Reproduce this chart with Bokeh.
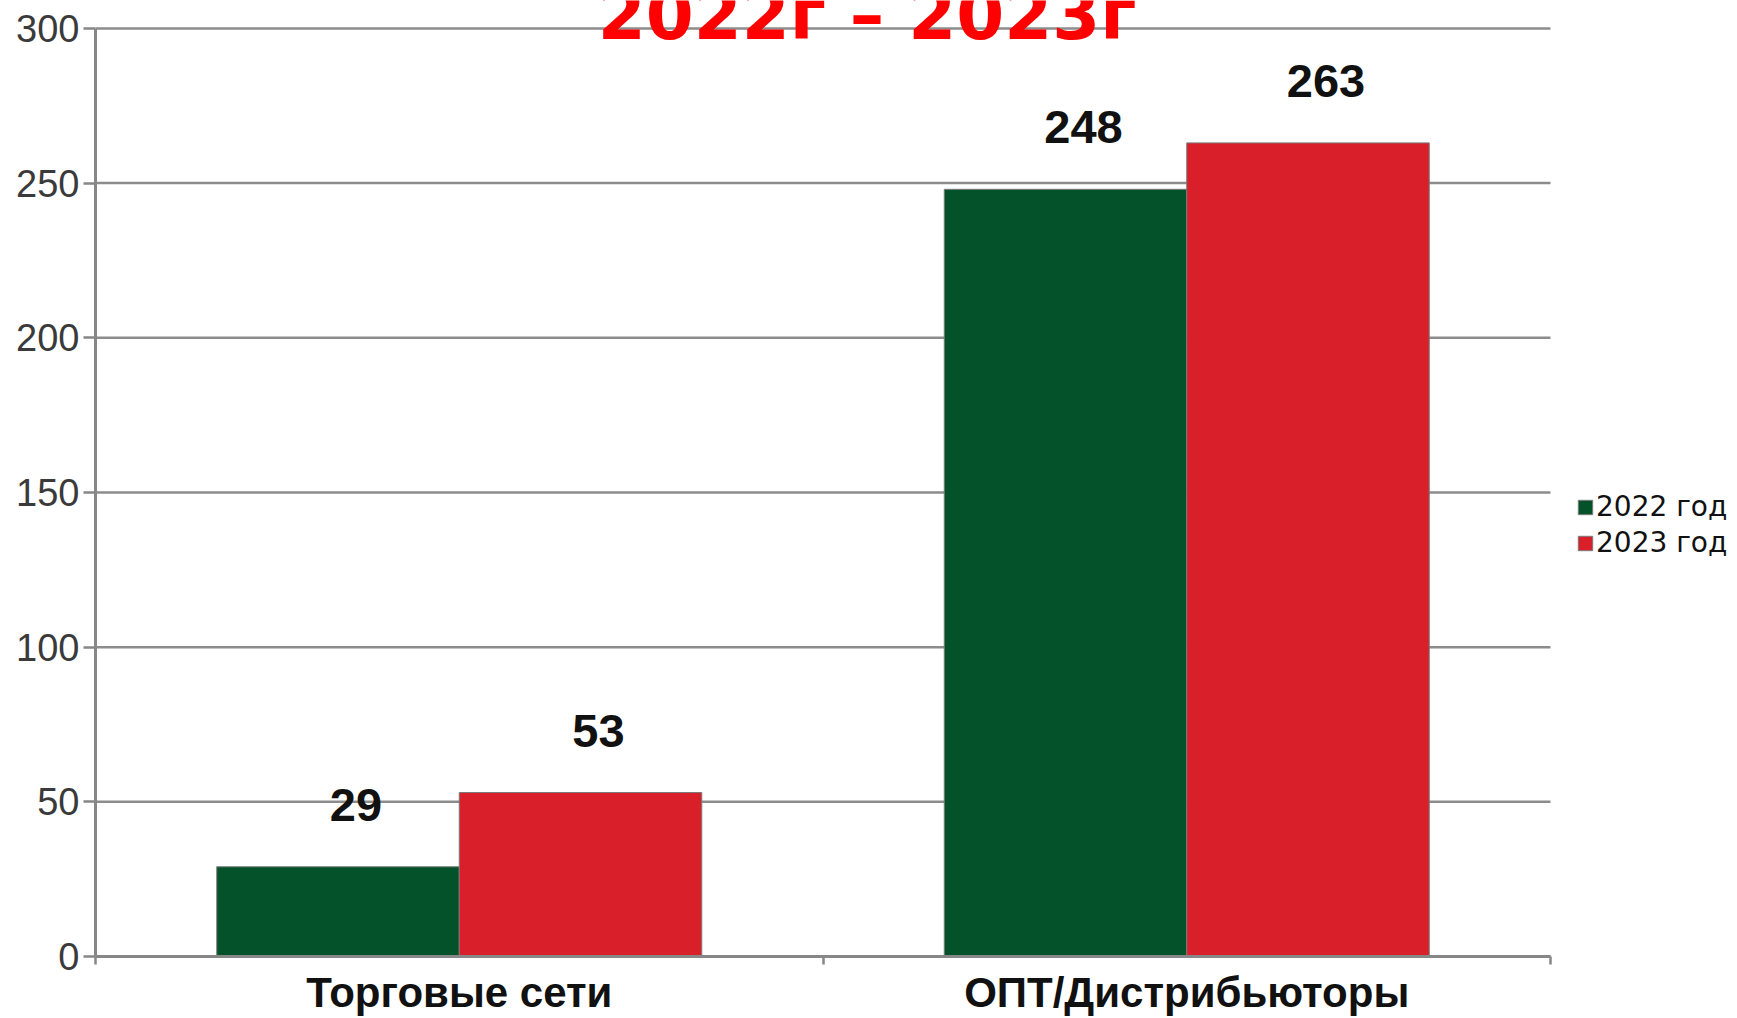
from bokeh.plotting import figure
from bokeh.models import Range1d, FixedTicker, ColumnDataSource, Legend, LegendItem, Label
from bokeh.embed import file_html
from bokeh.resources import INLINE
from bokeh.core.properties import value

# ---- data ----
categories = ["Торговые сети", "ОПТ/Дистрибьюторы"]
series_names = ["2022 год", "2023 год"]
values_2022 = [29, 248]
values_2023 = [53, 263]
y_ticks = [0, 50, 100, 150, 200, 250, 300]
title_text = "2022г – 2023г"

# ---- styling / layout ----
colors = ["#04522A", "#D91F2A"]
AXIS_GRAY = "#878787"
GRID_GRAY = "#8c8c8c"
W, H = 1737, 1018
LEFT_PAD = 95                  # y axis position
PLOT_PX = 1455                 # width of the drawn chart area (category span)
FRAME_BOTTOM_PAD = 60          # space for category labels
AXIS_TOP_PX = 28               # the "300" line sits 28 px below the top edge

n = len(categories)
frame_w = W - LEFT_PAD
frame_h = H - FRAME_BOTTOM_PAD
x_max = n * frame_w / PLOT_PX                              # room for legend at the right
y_max = y_ticks[-1] * frame_h / (frame_h - AXIS_TOP_PX)   # head-room for the title

centers = [i + 0.5 for i in range(n)]
bar_w = 1 / 3
x22 = [c - bar_w / 2 for c in centers]
x23 = [c + bar_w / 2 for c in centers]

p = figure(width=W, height=H,
           x_range=Range1d(0, x_max), y_range=Range1d(y_ticks[0], y_max),
           output_backend="svg", toolbar_location=None,
           min_border_left=LEFT_PAD, min_border_right=0,
           min_border_top=0, min_border_bottom=FRAME_BOTTOM_PAD)
p.outline_line_color = None
p.background_fill_color = "white"
p.border_fill_color = "white"
p.xgrid.visible = False
p.ygrid.visible = False

# horizontal grid lines limited to the category span
p.segment(x0=[0] * len(y_ticks), x1=[n] * len(y_ticks), y0=y_ticks, y1=y_ticks,
          line_color=GRID_GRAY, line_width=2.5)

# y axis
p.yaxis.ticker = FixedTicker(ticks=y_ticks)
p.yaxis.bounds = (y_ticks[0], y_ticks[-1])
p.yaxis.axis_line_color = AXIS_GRAY
p.yaxis.axis_line_width = 3
p.yaxis.major_tick_line_color = AXIS_GRAY
p.yaxis.major_tick_line_width = 2.5
p.yaxis.major_tick_out = 12
p.yaxis.major_tick_in = 0
p.yaxis.minor_tick_line_color = None
p.yaxis.major_label_standoff = 4
p.yaxis.major_label_text_font = "Liberation Sans"
p.yaxis.major_label_text_font_size = "38px"
p.yaxis.major_label_text_color = "#3a3a3a"

# x axis: labels at category centres, small ticks at category boundaries
p.xaxis.ticker = FixedTicker(ticks=centers, minor_ticks=list(range(n + 1)))
p.xaxis.bounds = (0, n)
p.xaxis.major_label_overrides = {c: cat for c, cat in zip(centers, categories)}
p.xaxis.axis_line_color = AXIS_GRAY
p.xaxis.axis_line_width = 3
p.xaxis.major_tick_line_color = None
p.xaxis.major_tick_out = 0
p.xaxis.major_tick_in = 0
p.xaxis.minor_tick_line_color = AXIS_GRAY
p.xaxis.minor_tick_line_width = 2.5
p.xaxis.minor_tick_out = 8
p.xaxis.minor_tick_in = 0
p.xaxis.major_label_standoff = 4
p.xaxis.major_label_text_font = "Liberation Sans"
p.xaxis.major_label_text_font_style = "bold"
p.xaxis.major_label_text_font_size = "42px"
p.xaxis.major_label_text_color = "#111111"

# bars
src22 = ColumnDataSource(dict(x=x22, top=values_2022, label=[str(v) for v in values_2022]))
src23 = ColumnDataSource(dict(x=x23, top=values_2023, label=[str(v) for v in values_2023]))
r22 = p.vbar(x="x", top="top", bottom=0, width=bar_w, source=src22,
             fill_color=colors[0], line_color="#7a7a7a", line_width=1)
r23 = p.vbar(x="x", top="top", bottom=0, width=bar_w, source=src23,
             fill_color=colors[1], line_color="#7a7a7a", line_width=1)

# value labels
for src in (src22, src23):
    p.text(x="x", y="top", text="label", source=src,
           text_font=value("Liberation Sans"), text_font_style="bold",
           text_font_size="47px", text_color="#111111",
           text_align="center", text_baseline="alphabetic",
           x_offset=18, y_offset=-62)

# title (partly cut off at the top, as in the reference)
title = Label(x=n / 2, y=y_ticks[-1], x_offset=44, y_offset=13,
              text=title_text, text_font="DejaVu Sans", text_font_style="bold",
              text_font_size="69px", text_color="#FF0000",
              text_align="center", text_baseline="alphabetic")
p.add_layout(title)

# legend (right of the chart area)
legend = Legend(items=[LegendItem(label=series_names[0], renderers=[r22]),
                       LegendItem(label=series_names[1], renderers=[r23])],
                location=(1481, 397))
legend.label_text_font = "DejaVu Sans"
legend.label_text_font_size = "28px"
legend.label_text_color = "#111111"
legend.glyph_width = 18
legend.glyph_height = 18
legend.label_height = 32
legend.label_standoff = 2
legend.spacing = 3
legend.padding = 0
legend.margin = 0
legend.border_line_color = None
legend.background_fill_alpha = 0
p.add_layout(legend)

html = file_html(p, INLINE, title="chart")
with open("out.html", "w", encoding="utf-8") as f:
    f.write(html)
